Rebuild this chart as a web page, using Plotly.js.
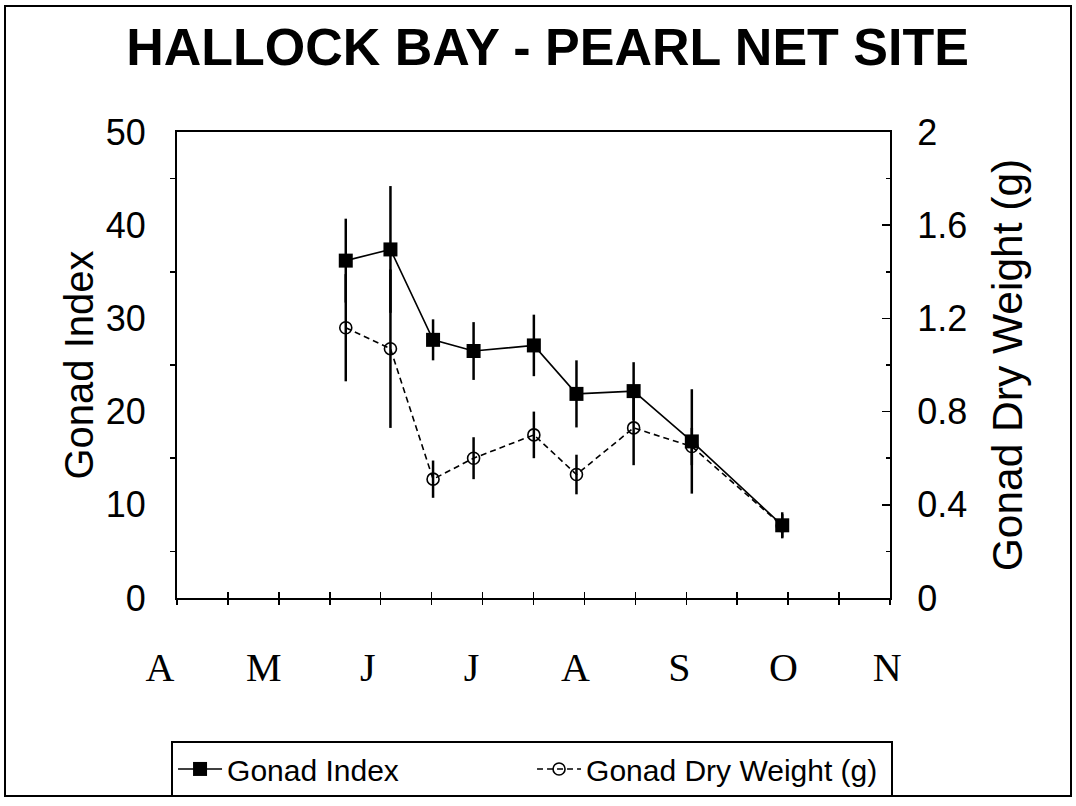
<!DOCTYPE html>
<html>
<head>
<meta charset="utf-8">
<script src="https://cdn.plot.ly/plotly-3.0.1.min.js"></script>
<style>
  html, body { margin: 0; padding: 0; background: #fff; }
  #wrap { position: relative; width: 1076px; height: 806px; }
  #chart { position: absolute; left: 0; top: 0; width: 1076px; height: 806px; }
  #frame { position: absolute; left: 4px; top: 5px; width: 1068px; height: 792px;
           border: 2px solid #000; pointer-events: none; box-sizing: border-box; }
</style>
</head>
<body>
<div id="wrap"><div id="chart"></div><div id="frame"></div></div>
<script>
// ---- data ----
const monthLabels = ['A', 'M', 'J', 'J', 'A', 'S', 'O', 'N'];
const monthPos = [0, 1, 2, 3, 4, 5, 6, 7];          // months after 1 April
const sampleMonth = [1.79, 2.22, 2.63, 3.02, 3.60, 4.01, 4.56, 5.12, 5.99];
const gonadIndex = [36.2, 37.4, 27.7, 26.5, 27.1, 21.9, 22.2, 16.8, 7.8];
const gonadIndexErr = [4.5, 6.8, 2.2, 3.1, 3.3, 3.6, 3.1, 5.6, 1.4];
const dryWeight = [1.16, 1.07, 0.51, 0.60, 0.70, 0.53, 0.73, 0.65, 0.31];
const dryWeightErr = [0.23, 0.34, 0.08, 0.09, 0.10, 0.085, 0.16, 0.08, 0.05];
const indexTicks = [0, 10, 20, 30, 40, 50];
const weightTicks = [0, 0.4, 0.8, 1.2, 1.6, 2];

const SANS = 'Liberation Sans, Arial, sans-serif';
const SERIF = 'Liberation Serif, Times New Roman, serif';

const dryTrace = {
  name: 'Gonad Dry Weight (g)',
  x: sampleMonth, y: dryWeight, xaxis: 'x', yaxis: 'y2',
  type: 'scatter', mode: 'lines+markers', legendrank: 2,
  line: { color: '#000', width: 1.6, dash: '6px,4px' },
  marker: { symbol: 'circle-open', size: 12, color: '#000', line: { width: 1.6, color: '#000' } },
  error_y: { type: 'data', array: dryWeightErr, visible: true, color: '#000', thickness: 2.5, width: 0 }
};
const indexTrace = {
  name: 'Gonad Index',
  x: sampleMonth, y: gonadIndex, xaxis: 'x', yaxis: 'y',
  type: 'scatter', mode: 'lines+markers', legendrank: 1,
  line: { color: '#000', width: 1.6 },
  marker: { symbol: 'square', size: 14, color: '#000' },
  error_y: { type: 'data', array: gonadIndexErr, visible: true, color: '#000', thickness: 2.5, width: 0 }
};
// carriers (no visible marks) so that the month-label axis and the
// outer half of the crossing x ticks are drawn
const monthAxisCarrier = {
  x: monthPos, y: monthPos.map(() => null), xaxis: 'x2', yaxis: 'y',
  type: 'scatter', mode: 'markers', showlegend: false, hoverinfo: 'skip'
};
const tickAxisCarrier = {
  x: sampleMonth, y: sampleMonth.map(() => null), xaxis: 'x3', yaxis: 'y',
  type: 'scatter', mode: 'markers', showlegend: false, hoverinfo: 'skip'
};

const xr = [0.166, 7.027];
const layout = {
  width: 1076, height: 806,
  margin: { l: 140, r: 140, t: 132, b: 208, pad: 0 },
  paper_bgcolor: '#fff', plot_bgcolor: 'rgba(0,0,0,0)',
  font: { family: SANS, color: '#000' },
  title: {
    text: 'HALLOCK BAY - PEARL NET SITE',
    font: { family: SANS, size: 52, weight: 'bold', color: '#000' },
    xref: 'paper', x: 0.512, xanchor: 'center',
    yref: 'container', y: 0.9417, yanchor: 'middle'
  },
  showlegend: true,
  legend: {
    orientation: 'h', x: 0.039, xanchor: 'left', xref: 'paper',
    y: 0.0807, yref: 'container', yanchor: 'top',
    bordercolor: '#000', borderwidth: 2, bgcolor: '#fff',
    font: { family: SANS, size: 30, color: '#000' },
    entrywidth: 300, itemwidth: 44, traceorder: 'normal'
  },
  xaxis: {
    domain: [0.046482, 0.942211], range: xr, anchor: 'y',
    tickmode: 'linear', tick0: xr[0], dtick: 0.4901,
    ticks: 'inside', ticklen: 6, tickwidth: 1.5, tickcolor: '#000',
    showticklabels: false, showline: true, linewidth: 2, linecolor: '#000', mirror: true,
    showgrid: false, zeroline: false, fixedrange: true
  },
  xaxis3: {
    overlaying: 'x', anchor: 'y', range: xr,
    tickmode: 'linear', tick0: xr[0], dtick: 0.4901,
    ticks: 'outside', ticklen: 6, tickwidth: 1.5, tickcolor: '#000',
    showticklabels: false, showline: false, showgrid: false, zeroline: false
  },
  xaxis2: {
    domain: [0.02487, 0.93894], range: [-0.001, 7.001], anchor: 'y',
    tickmode: 'array', tickvals: monthPos, ticktext: monthLabels,
    ticks: '', showline: false, showgrid: false, zeroline: false,
    tickfont: { family: SERIF, size: 40, color: '#000' },
    ticklabelstandoff: 42
  },
  yaxis: {
    domain: [0, 1], range: [0, 50], anchor: 'x',
    tickmode: 'array', tickvals: indexTicks, ticks: '',
    minor: { tickmode: 'linear', tick0: 5, dtick: 10, ticks: 'outside', ticklen: 5, tickwidth: 1.5, tickcolor: '#000', showgrid: false },
    showline: true, linewidth: 2, linecolor: '#000',
    tickfont: { family: SANS, size: 36, color: '#000' }, ticklabelstandoff: 22,
    title: { text: 'Gonad Index', standoff: 0, font: { family: SANS, size: 40, color: '#000' } },
    showgrid: false, zeroline: false
  },
  yaxis2: {
    overlaying: 'y', side: 'right', anchor: 'x', range: [0, 2],
    tickmode: 'array', tickvals: weightTicks,
    ticks: 'inside', ticklen: 8, tickwidth: 1.5, tickcolor: '#000',
    minor: { tickmode: 'linear', tick0: 0, dtick: 0.2, ticks: 'inside', ticklen: 4, tickwidth: 1.5, tickcolor: '#000', showgrid: false },
    showline: true, linewidth: 2, linecolor: '#000',
    tickfont: { family: SANS, size: 36, color: '#000' }, ticklabelstandoff: 18,
    title: { text: 'Gonad Dry Weight (g)', standoff: 26, font: { family: SANS, size: 42.5, color: '#000' } },
    showgrid: false, zeroline: false
  }
};

Plotly.newPlot('chart', [monthAxisCarrier, tickAxisCarrier, dryTrace, indexTrace], layout,
  { displayModeBar: false, staticPlot: true });
</script>
</body>
</html>
